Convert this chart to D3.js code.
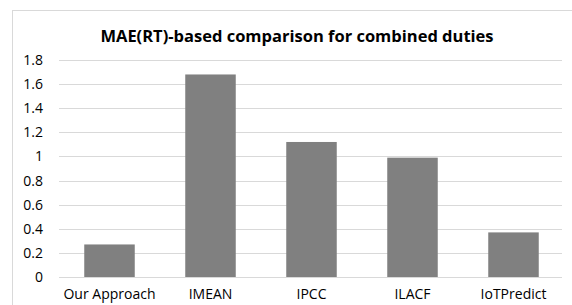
<!DOCTYPE html>
<html>
<head>
<meta charset="utf-8">
<script src="https://cdn.jsdelivr.net/npm/d3@7"></script>
<style>
  body { margin: 0; background: #fff; }
  svg { display: block; font-family: "Open Sans", "Noto Sans", sans-serif; }
</style>
</head>
<body>
<svg id="chart" width="572" height="305"></svg>
<script>
var categories = ['Our Approach', 'IMEAN', 'IPCC', 'ILACF', 'IoTPredict'];
var values = [0.27, 1.68, 1.12, 0.99, 0.37];
var yTicks = [0, 0.2, 0.4, 0.6, 0.8, 1, 1.2, 1.4, 1.6, 1.8];
var title = 'MAE(RT)-based comparison for combined duties';

var svg = d3.select('#chart');
var margin = {top: 60, right: 8, bottom: 28, left: 59};
var height = 277 - margin.top;

// outer frame
svg.append('rect')
  .attr('x', 12.5).attr('y', 10.5)
  .attr('width', 600).attr('height', 320)
  .attr('fill', 'none')
  .attr('stroke', '#d9d9d9');

svg.append('text')
  .attr('x', 297)
  .attr('y', 42)
  .attr('text-anchor', 'middle')
  .style('font-size', '16.5px')
  .style('font-weight', 'bold')
  .attr('fill', '#000')
  .text(title);

var g = svg.append('g').attr('transform', 'translate(' + margin.left + ',' + margin.top + ')');

var x = d3.scaleBand()
  .domain(categories)
  .range([0, 505])
  .paddingInner(0.5)
  .paddingOuter(0.25);

var y = d3.scaleLinear()
  .domain([0, 1.8])
  .range([height, 0]);

// grid
g.selectAll('line.grid')
  .data(yTicks)
  .enter().append('line')
  .attr('class', 'grid')
  .attr('x1', 0).attr('x2', 503)
  .attr('y1', function(d) { return Math.round(y(d)) + 0.5; })
  .attr('y2', function(d) { return Math.round(y(d)) + 0.5; })
  .attr('stroke', '#d9d9d9')
  .attr('stroke-width', 1);

// y axis labels
var yAxis = g.append('g')
  .call(d3.axisLeft(y).tickValues(yTicks).tickSize(0).tickPadding(16).tickFormat(d3.format('')));
yAxis.select('.domain').remove();
yAxis.selectAll('text')
  .style('font-size', '14px')
  .style('font-family', '"Open Sans", sans-serif')
  .attr('fill', '#000');

// bars
g.selectAll('rect.bar')
  .data(values)
  .enter().append('rect')
  .attr('class', 'bar')
  .attr('x', function(d, i) { return x(categories[i]); })
  .attr('y', function(d) { return y(d); })
  .attr('width', x.bandwidth())
  .attr('height', function(d) { return height - y(d); })
  .attr('fill', '#808080');

// x axis labels
var xAxis = g.append('g')
  .attr('transform', 'translate(0,' + height + ')')
  .call(d3.axisBottom(x).tickSize(0).tickPadding(12));
xAxis.select('.domain').remove();
xAxis.selectAll('text')
  .style('font-size', '14px')
  .style('font-family', '"Open Sans", sans-serif')
  .attr('fill', '#000');
</script>
</body>
</html>
